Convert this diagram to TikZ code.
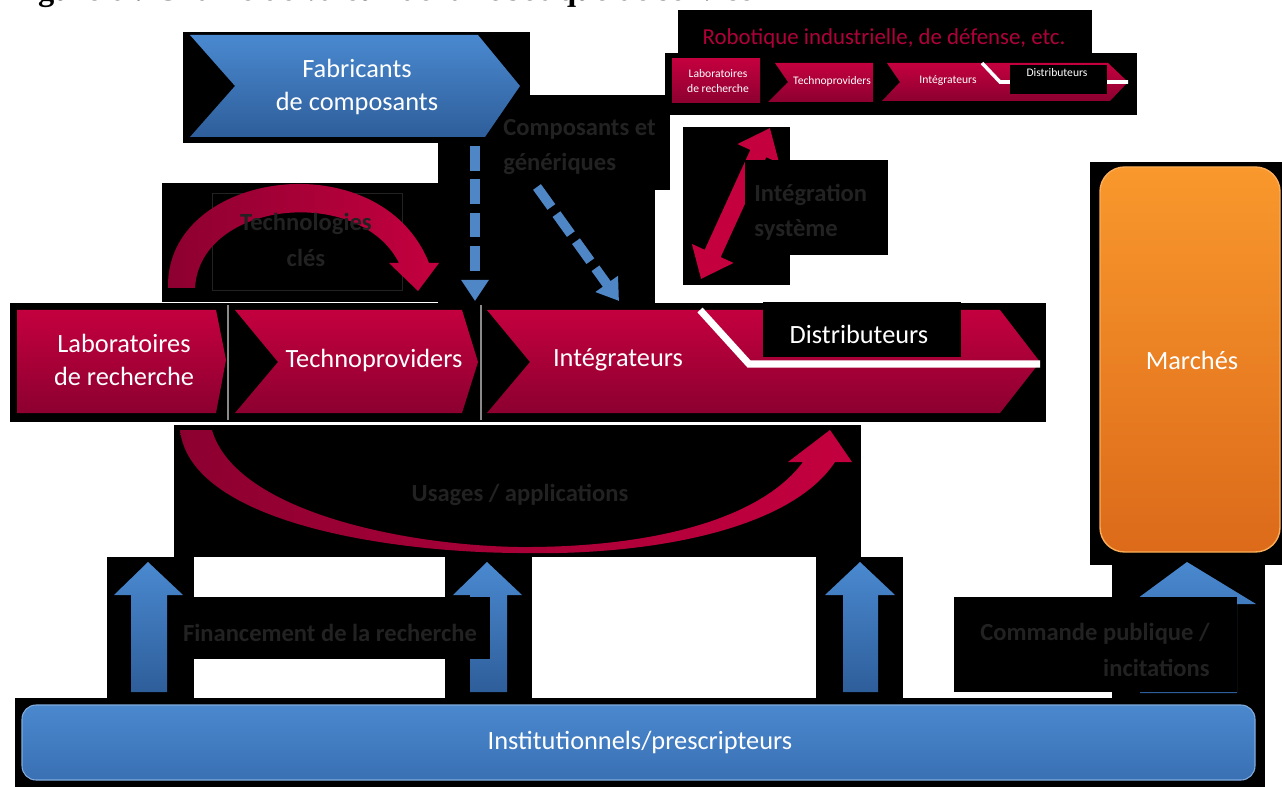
\documentclass[tikz,border=0pt]{standalone}
\usepackage{fontspec}
\setmainfont{Carlito}
\newfontfamily\titlefont{Liberation Serif}
\usetikzlibrary{arrows.meta}
\definecolor{crimA}{HTML}{C4003F}
\definecolor{crimB}{HTML}{8C0030}
\definecolor{bluA}{HTML}{4A89D0}
\definecolor{bluB}{HTML}{2E5E9A}
\definecolor{dashblue}{HTML}{4F86C6}
\definecolor{orA}{HTML}{F9982C}
\definecolor{orB}{HTML}{DC6A1A}
\definecolor{barA}{HTML}{4A88CE}
\definecolor{barB}{HTML}{3A70B4}
\definecolor{ghost}{HTML}{222222}
\definecolor{sepgray}{HTML}{8A8A8A}
\definecolor{robored}{HTML}{B0003A}
\tikzset{
  blk/.style={fill=black, draw=none},
  crim/.style={top color=crimA, bottom color=crimB, draw=none},
  bluearrow/.style={top color=bluA, bottom color=bluB, draw=none},
  lbl/.style={text=white, font=\fontsize{15}{19}\selectfont, align=center, inner sep=0pt},
  smalllbl/.style={text=white, font=\fontsize{6.6}{8}\selectfont, align=center, inner sep=0pt},
  ghosttxt/.style={text=ghost, font=\bfseries\fontsize{14}{20}\selectfont, inner sep=0pt},
  dasharrow/.style={draw=dashblue, line width=5.5pt, dash pattern=on 14pt off 5pt, -{Triangle[width=15pt,length=12pt]}},
  crimarrow/.style={draw=crimA, line width=10pt, {Triangle[width=25pt,length=16pt]}-{Triangle[width=25pt,length=16pt]}},
}
\begin{document}
\begin{tikzpicture}[x=0.02cm,y=-0.02cm]
\useasboundingbox (0,0) rectangle (1282,787);
\fill[white] (0,0) rectangle (1282,787);
% title (clipped at the top of the page, as in the reference)
\node[anchor=base west, inner sep=0pt, font=\titlefont\bfseries\fontsize{18.5}{22}\selectfont] (title) at (9,1) {Figure 6 : Chaîne de valeur de la robotique de service};

% ---------- black backgrounds ----------
\fill[blk] (183,32) rectangle (530,143);
\fill[blk] (480,95) rectangle (670,190);
\fill[blk] (438,140) rectangle (655,305);
\fill[blk] (678,10) rectangle (1092,60);
\fill[blk] (665,53) rectangle (1137,115);
\fill[blk] (683,127) rectangle (790,285);
\fill[blk] (162,183) rectangle (442,302);
\fill[blk] (10,303) rectangle (1046,422);
\fill[blk] (174,425) rectangle (861,557);
\fill[blk] (107,557) rectangle (194,707);
\fill[blk] (445,557) rectangle (532,707);
\fill[blk] (816,557) rectangle (903,707);
\fill[blk] (1090,162) rectangle (1282,565);
\fill[blk] (1112,560) rectangle (1265,707);
\fill[blk] (15,698) rectangle (1265,787);

% ---------- Fabricants de composants ----------
\shade[bluearrow] (190,35) -- (478,35) -- (520,86) -- (485,137) -- (190,137) -- (235,86) -- cycle;
\node[lbl] (fab) at (357,87) {Fabricants\\de composants};

% ---------- Robotique industrielle (small chain) ----------
\node[text=robored, font=\fontsize{13}{15}\selectfont, inner sep=0pt] (robo) at (884,38) {Robotique industrielle, de défense, etc.};
\shade[crim] (672,59) rectangle (760,103);
\shade[crim] (775,63) -- (873,63) -- (873,102) -- (768,102) -- (788,82) -- cycle;
\shade[crim] (887,63) -- (1108,63) -- (1128,82) -- (1110,101) -- (882,101) -- (900,82) -- cycle;
\draw[white, line width=2pt] (982,63) -- (1000,82) -- (1128,82);
\fill[blk] (1010,65) rectangle (1107,94);
\node[smalllbl] (slab) at (718,81) {Laboratoires\\de recherche};
\node[smalllbl] (stech) at (832,81) {Technoproviders};
\node[smalllbl] (sint) at (948,81) {Intégrateurs};
\node[smalllbl] (sdist) at (1057,73) {Distributeurs};

% ---------- dashed arrows from components ----------
\node[ghosttxt, anchor=west, align=left] (comp) at (503,147) {Composants et\\génériques};
\coordinate (dv1) at (475,146);
\coordinate (dv2) at (475,301);
\coordinate (dd1) at (537,187);
\coordinate (dd2) at (619,301);
\draw[dasharrow] (dv1) -- (dv2);
\draw[dasharrow] (dd1) -- (dd2);

% ---------- Intégration système double arrow ----------
\coordinate (ia) at (701,279);
\coordinate (ib) at (770,128);
\draw[crimarrow] (ia) -- (ib);
\fill[blk] (745,160) rectangle (888,255);
\node[ghosttxt, anchor=west, align=left] (integ) at (754,212) {Intégration\\système};

% ---------- Technologies clés arc ----------
\draw[ghost, line width=0.4pt] (212,193) rectangle (402,290);
\shade[left color=crimB, right color=crimA, draw=none]
  (168,288) .. controls (165,170) and (380,140) .. (429,263)
  -- (439,263) -- (418,291) -- (389,263) -- (399,263)
  .. controls (360,185) and (200,200) .. (195,288) -- cycle;
\node[ghosttxt, align=center, font=\bfseries\fontsize{14}{21}\selectfont] (techno) at (306,240) {Technologies\\clés};

% ---------- main value chain ----------
\shade[crim] (17,310) -- (216,310) -- (226,360) -- (216,413) -- (17,413) -- cycle;
\shade[crim] (235,310) -- (462,310) -- (478,362) -- (462,413) -- (235,413) -- (278,362) -- cycle;
\shade[crim] (487,310) -- (1000,310) -- (1040,362) -- (1000,413) -- (487,413) -- (530,362) -- cycle;
\draw[sepgray, line width=0.6pt] (228,305) -- (228,420);
\draw[sepgray, line width=0.6pt] (481,305) -- (481,420);
\draw[white, line width=4pt] (700,310) -- (749,364) -- (1040,364);
\fill[blk] (763,302) rectangle (961,357);
\node[lbl] (lab) at (124,360) {Laboratoires\\de recherche};
\node[lbl] (tech) at (374,360) {Technoproviders};
\node[lbl] (int) at (618,360) {Intégrateurs};
\node[lbl] (dist) at (859,334) {Distributeurs};

% ---------- Usages / applications arc ----------
\shade[left color=crimB, right color=crimA, draw=none]
  (180,430) -- (212,430)
  .. controls (235,510) and (400,545) .. (518,547)
  .. controls (650,548) and (760,520) .. (803,462)
  -- (788,462) -- (830,430) -- (852,462) -- (835,462)
  .. controls (790,530) and (650,556) .. (518,553)
  .. controls (380,552) and (190,520) .. (180,430) -- cycle;
\node[ghosttxt] (usages) at (520,495) {Usages / applications};

% ---------- Marchés ----------
\shade[rounded corners=14pt, top color=orA, bottom color=orB, draw=orA!80!white, line width=0.8pt] (1100,167) rectangle (1280,552);
\node[lbl] (march) at (1192,360) {Marchés};

% ---------- blue up arrows ----------
\shade[bluearrow] (131,692) -- (167,692) -- (167,595) -- (183,595) -- (148,562) -- (114,595) -- (131,595) -- cycle;
\shade[bluearrow] (470,692) -- (507,692) -- (507,595) -- (522,595) -- (487,562) -- (453,595) -- (470,595) -- cycle;
\shade[bluearrow] (843,692) -- (878,692) -- (878,595) -- (895,595) -- (860,562) -- (825,595) -- (843,595) -- cycle;
\shade[bluearrow] (1140,693) -- (1237,693) -- (1237,604) -- (1256,604) -- (1187,562) -- (1130,604) -- (1140,604) -- cycle;
\fill[blk] (194,597) rectangle (490,659);
\node[ghosttxt] (fin) at (330,633) {Financement de la recherche};
\fill[blk] (954,597) rectangle (1237,692);
\node[ghosttxt, anchor=east, align=right] (cmd) at (1210,650) {Commande publique /\\incitations};

% ---------- Institutionnels ----------
\shade[rounded corners=8pt, top color=barA, bottom color=barB, draw=barA!70!white, line width=0.6pt] (22,705) rectangle (1255,780);
\node[lbl, font=\fontsize{15}{18}\selectfont] (inst) at (640,742) {Institutionnels/prescripteurs};
\end{tikzpicture}
\end{document}
